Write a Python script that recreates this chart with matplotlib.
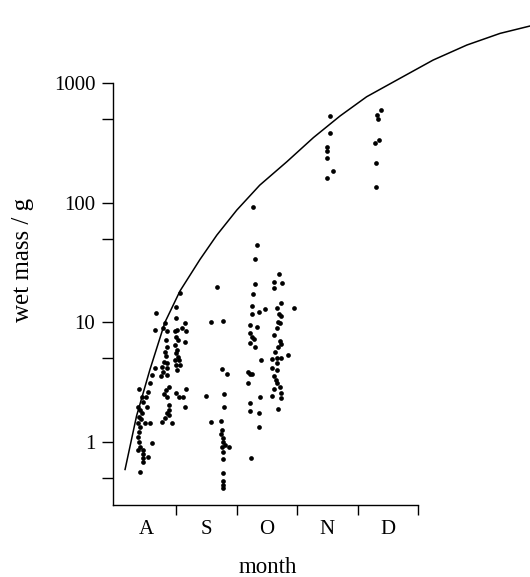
import numpy as np
import matplotlib
matplotlib.use("Agg")
import matplotlib.pyplot as plt
from matplotlib.ticker import FixedLocator, NullFormatter

plt.rcParams['font.family'] = ['Liberation Serif', 'DejaVu Serif']

# x = time in months from 1 August, y = wet mass in g
aug_x = [0.38, 0.36, 0.40, 0.43, 0.38, 0.41, 0.36, 0.40, 0.38, 0.37, 0.38, 0.40, 0.37, 0.44, 0.45,
         0.44, 0.44, 0.40, 0.53, 0.59, 0.48, 0.57, 0.52, 0.53, 0.50, 0.56, 0.59, 0.64, 0.45, 0.43,
         0.67, 0.65, 0.78, 0.81, 0.84, 0.83, 0.84, 0.81, 0.83, 0.79, 0.84, 0.76, 0.84, 0.78, 0.75,
         0.85, 0.87, 0.83, 0.79, 0.85, 0.88, 0.84, 0.81, 0.76, 0.92, 0.88, 0.87,
         1.06, 1.00, 0.99, 0.98, 1.01, 0.99, 1.03, 0.98, 1.01, 0.99, 1.03, 1.05, 0.98, 1.00, 1.01,
         1.06, 1.14, 1.16, 1.15, 1.09, 1.00, 1.05, 1.11, 1.16, 1.14]
aug_y = [2.75, 1.97, 1.85, 1.74, 1.63, 1.55, 1.43, 1.34, 1.22, 1.11, 1.0, 0.91, 0.86, 0.86, 0.80,
         0.73, 0.68, 0.56, 0.75, 0.98, 1.43, 1.43, 1.97, 2.63, 2.39, 3.1, 3.63, 4.13, 2.17, 2.39,
         11.9, 8.6, 8.9, 9.8, 8.4, 7.1, 6.25, 5.7, 5.2, 4.7, 4.54, 4.26, 4.13, 3.87, 3.56,
         3.63, 2.9, 2.72, 2.52, 2.39, 1.85, 1.74, 1.58, 1.48, 1.43, 1.68, 2.04,
         17.5, 13.5, 10.8, 8.4, 8.6, 7.6, 7.1, 6.45, 5.87, 5.5, 5.17, 4.84, 4.84, 4.4, 4.0,
         4.4, 9.8, 8.4, 6.9, 8.9, 2.55, 2.39, 2.39, 2.75, 1.97]

sep_x = [1.67, 1.57, 1.77, 1.49, 1.57, 1.75, 1.83, 1.79, 1.79, 1.74, 1.76, 1.74, 1.77, 1.78, 1.80,
         1.87, 1.75, 1.77, 1.78, 1.77, 1.78, 1.78, 1.78]
sep_y = [19.8, 10.1, 10.3, 2.44, 1.46, 4.05, 3.70, 2.52, 1.95, 1.51, 1.26, 1.16, 1.09, 1.0, 0.94,
         0.91, 0.91, 0.83, 0.72, 0.55, 0.47, 0.44, 0.41]

oct_x = [2.27, 2.34, 2.30, 2.30, 2.27, 2.26, 2.26, 2.36, 2.47, 2.22, 2.34, 2.22, 2.25, 2.22, 2.30,
         2.28, 2.40, 2.19, 2.22, 2.26, 2.19, 2.38, 2.22, 2.22, 2.37, 2.37, 2.24,
         2.70, 2.62, 2.75, 2.62, 2.73, 2.67, 2.94, 2.70, 2.73, 2.69, 2.66, 2.72, 2.62, 2.72, 2.73,
         2.69, 2.63, 2.84, 2.66, 2.59, 2.74, 2.67, 2.59, 2.67, 2.62, 2.65, 2.67, 2.72, 2.62, 2.74,
         2.59, 2.74, 2.69]
oct_y = [92, 44, 33.6, 20.8, 17.1, 13.7, 11.7, 12.1, 12.9, 9.5, 9.2, 8.1, 7.5, 6.7, 6.25,
         7.2, 4.84, 3.87, 3.70, 3.70, 3.1, 2.39, 2.1, 1.83, 1.74, 1.34, 0.73,
         25.2, 21.8, 21.4, 19.2, 14.4, 13.1, 13.1, 11.7, 11.4, 10.1, 8.9, 9.8, 7.9, 7.0, 6.6,
         6.25, 5.7, 5.3, 5.0, 4.9, 5.0, 4.54, 4.13, 4.0, 3.58, 3.3, 3.1, 2.86, 2.75, 2.55,
         2.44, 2.32, 1.88]

nov_x = [3.54, 3.55, 3.49, 3.49, 3.50, 3.59, 3.50]
nov_y = [530, 384, 293, 272, 235, 184, 161]
dec_x = [4.38, 4.33, 4.34, 4.36, 4.29, 4.30, 4.30]
dec_y = [594, 540, 497, 333, 313, 215, 134]

# growth curve
curve_x = [0.15, 0.34, 0.56, 0.81, 1.06, 1.39, 1.67, 2.00, 2.38, 2.83, 3.27, 3.71,
           4.15, 4.70, 5.25, 5.81, 6.36, 6.85]
curve_y = [0.59, 1.65, 4.0, 10.0, 18.3, 33.5, 53.6, 86.7, 140, 220, 350, 530,
           767, 1092, 1553, 2075, 2596, 2987]

months = ['A', 'S', 'O', 'N', 'D']

fig = plt.figure(figsize=(5.3, 5.77), dpi=100)
ax = fig.add_axes([0.2126, 0.1248, 0.576, 0.7314])

for xs, ys in [(aug_x, aug_y), (sep_x, sep_y), (oct_x, oct_y), (nov_x, nov_y), (dec_x, dec_y)]:
    ax.plot(xs, ys, 'o', color='black', ms=3.4, mew=0)

ax.plot(curve_x, curve_y, '-', color='black', lw=1.1, clip_on=False, solid_joinstyle='round')

ax.set_yscale('log')
ax.set_ylim(0.298, 1000)
ax.set_xlim(-0.055, 5)

ax.spines['top'].set_visible(False)
ax.spines['right'].set_visible(False)
ax.spines['left'].set_linewidth(1.0)
ax.spines['bottom'].set_linewidth(1.0)

ax.yaxis.set_major_locator(FixedLocator([1, 10, 100, 1000]))
ax.yaxis.set_minor_locator(FixedLocator([0.5, 5, 50, 500]))
ax.set_yticklabels(['1', '10', '100', '1000'])
ax.yaxis.set_minor_formatter(NullFormatter())
ax.tick_params(axis='y', which='both', direction='out', length=8, width=1.0, pad=4.5, labelsize=15)

ax.xaxis.set_major_locator(FixedLocator([1, 2, 3, 4, 5]))
ax.xaxis.set_major_formatter(NullFormatter())
ax.xaxis.set_minor_locator(FixedLocator(np.arange(len(months)) + 0.5))
ax.set_xticklabels(months, minor=True)
ax.tick_params(axis='x', which='major', direction='out', length=7, width=1.0)
ax.tick_params(axis='x', which='minor', length=0, pad=11, labelsize=15)

ax.set_xlabel('month', fontsize=16.5, va='center')
ax.xaxis.set_label_coords(0.509, -0.147)
ax.set_ylabel('wet mass / g', fontsize=18, va='center')
ax.yaxis.set_label_coords(-0.295, 0.581)

fig.savefig('out.png', dpi=100)
